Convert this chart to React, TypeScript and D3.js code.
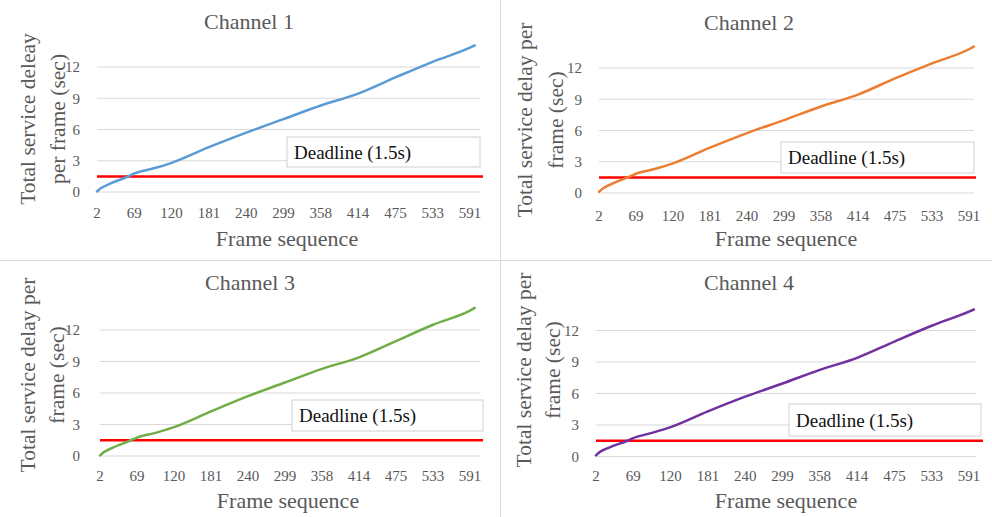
import React from "react";
import * as d3 from "d3";

const categories = ["2", "69", "120", "181", "240", "299", "358", "414", "475", "533", "591"];
const yTicks = [0, 3, 6, 9, 12];
const deadline = 1.5;
const deadlineLabel = "Deadline (1.5s)";

// sample positions along the category axis (in category-label slots)
const samplePos = [0, 0.1, 0.35, 0.84, 1.0, 1.5, 2.0, 3.0, 4.0, 5.0, 6.0, 7.0, 8.0, 9.0, 10.0, 10.13];

const channel1 = [0.05, 0.35, 0.8, 1.5, 1.78, 2.25, 2.8, 4.3, 5.7, 7.0, 8.3, 9.45, 11.0, 12.5, 13.85, 14.07];
const channel2 = [0.1, 0.42, 0.88, 1.6, 1.85, 2.3, 2.85, 4.35, 5.75, 7.0, 8.3, 9.45, 11.0, 12.45, 13.8, 14.05];
const channel3 = [0.05, 0.35, 0.8, 1.5, 1.75, 2.2, 2.75, 4.25, 5.7, 7.0, 8.3, 9.4, 10.95, 12.5, 13.85, 14.1];
const channel4 = [0.1, 0.42, 0.85, 1.5, 1.75, 2.25, 2.8, 4.3, 5.7, 6.95, 8.25, 9.4, 10.95, 12.45, 13.8, 14.0];

const titles = ["Channel 1", "Channel 2", "Channel 3", "Channel 4"];
const yTitles = [
  ["Total service deleay", "per frame (sec)"],
  ["Total service delay per", "frame (sec)"],
  ["Total service delay per", "frame (sec)"],
  ["Total service delay per", "frame (sec)"],
];
const xTitle = "Frame sequence";
const seriesValues = [channel1, channel2, channel3, channel4];
const colors = ["#5b9bd5", "#ed7d31", "#70ad47", "#7030a0"];

const layouts = [
  { x0: 97, step: 37.3, gridR: 480, y0: 192, y12: 67, redR: 483, box: [287, 137, 193, 30], titleX: 249, titleY: 29, yt1X: 35, yt2X: 65, ytY: 119, tickRight: 80, xLabY: 218, xTitleX: 287, xTitleY: 246 },
  { x0: 599, step: 37.0, gridR: 974, y0: 193, y12: 68, redR: 976, box: [781, 142, 193, 31], titleX: 749, titleY: 30, yt1X: 532, yt2X: 563, ytY: 120, tickRight: 582, xLabY: 221, xTitleX: 786, xTitleY: 246 },
  { x0: 100, step: 37.0, gridR: 480, y0: 456, y12: 330, redR: 483, box: [292, 400, 191, 31], titleX: 250, titleY: 290, yt1X: 35, yt2X: 64, ytY: 375, tickRight: 80, xLabY: 481, xTitleX: 288, xTitleY: 508 },
  { x0: 596, step: 37.3, gridR: 976, y0: 456.5, y12: 330.5, redR: 983, box: [789, 404, 192, 32], titleX: 749, titleY: 290, yt1X: 531, yt2X: 560, ytY: 370, tickRight: 579, xLabY: 481, xTitleX: 786, xTitleY: 508 },
];

const FONT = "'Liberation Serif', 'Times New Roman', serif";
const GRAY = "#595959";

function Panel({ i }: { i: number }) {
  const L = layouts[i];
  const x = d3.scaleLinear().domain([0, 1]).range([L.x0, L.x0 + L.step]);
  const y = d3.scaleLinear().domain([0, 12]).range([L.y0, L.y12]);
  const vals = seriesValues[i];
  const pts: [number, number][] = samplePos.map((p, k) => [p, vals[k]]);
  const line = d3
    .line<[number, number]>()
    .x((d) => x(d[0]))
    .y((d) => y(d[1]))
    .curve(d3.curveMonotoneX);
  const [bx, by, bw, bh] = L.box;
  return (
    <g>
      {yTicks.map((t) => (
        <line key={t} x1={L.x0} x2={L.gridR} y1={y(t)} y2={y(t)} stroke="#d9d9d9" strokeWidth={1} />
      ))}
      {yTicks.map((t) => (
        <text key={"l" + t} x={L.tickRight} y={y(t)} dy="0.35em" textAnchor="end" fontSize={15} fill={GRAY} fontFamily={FONT}>
          {t}
        </text>
      ))}
      {categories.map((c, k) => (
        <text key={c} x={x(k)} y={L.xLabY} textAnchor="middle" fontSize={15} fill={GRAY} fontFamily={FONT}>
          {c}
        </text>
      ))}
      <text x={L.titleX} y={L.titleY} textAnchor="middle" fontSize={22} fill={GRAY} fontFamily={FONT}>
        {titles[i]}
      </text>
      <text x={L.xTitleX} y={L.xTitleY} textAnchor="middle" fontSize={22} fill={GRAY} fontFamily={FONT}>
        {xTitle}
      </text>
      <text transform={`translate(${L.yt1X},${L.ytY}) rotate(-90)`} textAnchor="middle" fontSize={21.5} fill={GRAY} fontFamily={FONT}>
        {yTitles[i][0]}
      </text>
      <text transform={`translate(${L.yt2X},${L.ytY}) rotate(-90)`} textAnchor="middle" fontSize={21.5} fill={GRAY} fontFamily={FONT}>
        {yTitles[i][1]}
      </text>
      <rect x={bx} y={by} width={bw} height={bh} fill="#fff" stroke="#d0d0d0" strokeWidth={1} />
      <text x={bx + 7} y={by + bh / 2} dy="0.35em" fontSize={19} fill="#111" fontFamily={FONT}>
        {deadlineLabel}
      </text>
      <line x1={L.x0} x2={L.redR} y1={y(deadline)} y2={y(deadline)} stroke="#ff0000" strokeWidth={2.5} />
      <path d={line(pts) || ""} fill="none" stroke={colors[i]} strokeWidth={2.5} strokeLinecap="round" />
    </g>
  );
}

export default function App() {
  return (
    <svg width={992} height={517} style={{ position: "absolute", left: 0, top: 0, background: "#fff" }}>
      <rect x={0} y={0} width={992} height={517} fill="#fff" />
      <line x1={500.5} x2={500.5} y1={0} y2={517} stroke="#d9d9d9" strokeWidth={1} />
      <line x1={0} x2={992} y1={260.5} y2={260.5} stroke="#d9d9d9" strokeWidth={1} />
      {[0, 1, 2, 3].map((i) => (
        <Panel key={i} i={i} />
      ))}
    </svg>
  );
}
